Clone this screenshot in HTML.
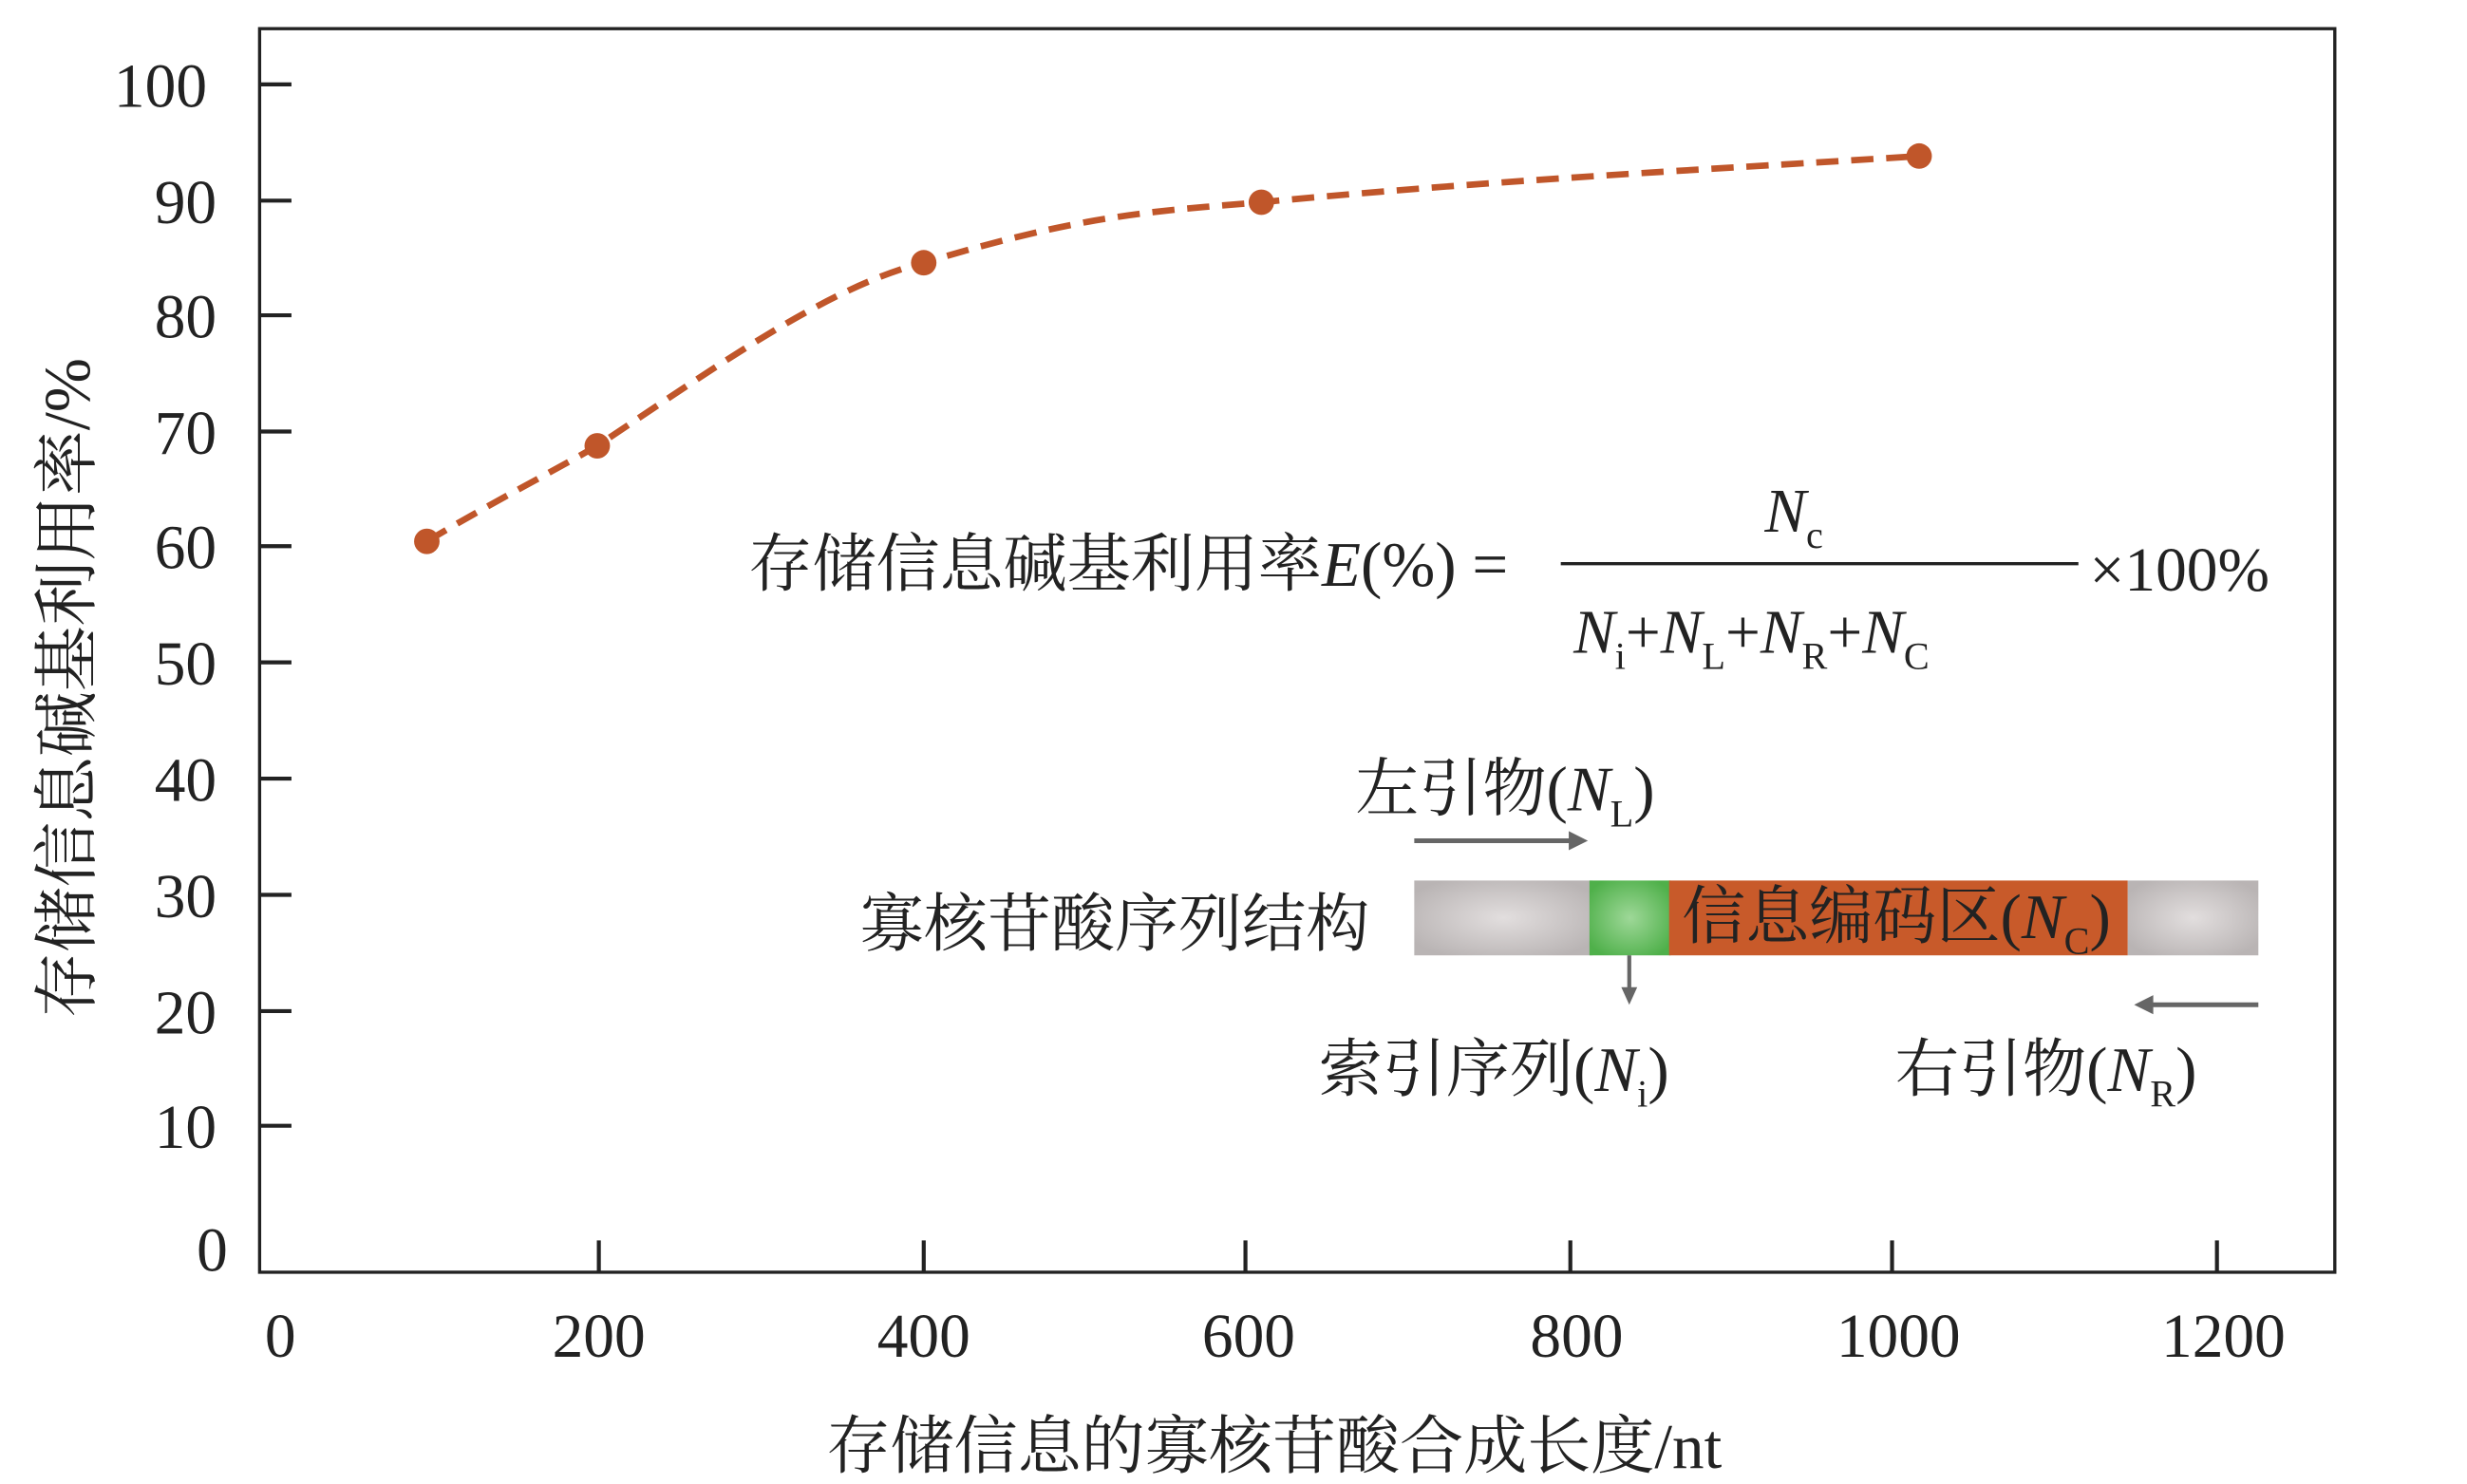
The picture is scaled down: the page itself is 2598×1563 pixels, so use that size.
<!DOCTYPE html>
<html><head><meta charset="utf-8"><style>html,body{margin:0;padding:0;background:#fff}svg{display:block}</style></head><body>
<svg width="2598" height="1563" viewBox="0 0 1549 932" preserveAspectRatio="none" xmlns="http://www.w3.org/2000/svg" font-family="'Liberation Serif','Noto Serif CJK SC',serif" fill="#222">
<defs>
<radialGradient id="gg" cx="0.5" cy="0.5" r="0.6"><stop offset="0" stop-color="#9ed898"/><stop offset="1" stop-color="#4fb04a"/></radialGradient>
<radialGradient id="gr" cx="0.5" cy="0.5" r="0.6"><stop offset="0" stop-color="#e2dede"/><stop offset="1" stop-color="#b9b4b4"/></radialGradient>
</defs>
<rect x="163" y="18" width="1303" height="781" fill="none" stroke="#222" stroke-width="2"/>
<g stroke="#222" stroke-width="2.5">
<line x1="163" y1="53" x2="183" y2="53"/><line x1="163" y1="126" x2="183" y2="126"/><line x1="163" y1="198" x2="183" y2="198"/><line x1="163" y1="271" x2="183" y2="271"/><line x1="163" y1="343" x2="183" y2="343"/><line x1="163" y1="416" x2="183" y2="416"/><line x1="163" y1="489" x2="183" y2="489"/><line x1="163" y1="562" x2="183" y2="562"/><line x1="163" y1="635" x2="183" y2="635"/><line x1="163" y1="707" x2="183" y2="707"/>
<line x1="376" y1="779" x2="376" y2="799"/><line x1="580" y1="779" x2="580" y2="799"/><line x1="782" y1="779" x2="782" y2="799"/><line x1="986" y1="779" x2="986" y2="799"/><line x1="1188" y1="779" x2="1188" y2="799"/><line x1="1392" y1="779" x2="1392" y2="799"/>
</g>
<g font-size="39" text-anchor="end">
<text x="130" y="67">100</text><text x="136" y="140">90</text><text x="136" y="212">80</text><text x="136" y="285">70</text><text x="136" y="357">60</text><text x="136" y="430">50</text><text x="136" y="503">40</text><text x="136" y="576">30</text><text x="136" y="649">20</text><text x="136" y="721">10</text><text x="143" y="798">0</text>
</g>
<g font-size="39" text-anchor="middle">
<text x="176" y="852">0</text><text x="376" y="852">200</text><text x="580" y="852">400</text><text x="784" y="852">600</text><text x="990" y="852">800</text><text x="1192" y="852">1000</text><text x="1396" y="852">1200</text>
</g>
<text x="800" y="922" font-size="40" text-anchor="middle">存储信息的寡核苷酸合成长度/nt</text>
<text transform="translate(56,432) rotate(-90)" font-size="41" text-anchor="middle">存储信息碱基利用率/%</text>
<path d="M268,340 C310,315 340,300 375,280 C450,230 520,180 580,165 C680,135 720,133 792,127 C950,112 1100,105 1205,98" fill="none" stroke="#c0562a" stroke-width="4" stroke-dasharray="14,8"/>
<g fill="#c0562a"><circle cx="268" cy="340" r="8"/><circle cx="375" cy="280" r="8"/><circle cx="580" cy="165" r="8"/><circle cx="792" cy="127" r="8"/><circle cx="1205" cy="98" r="8"/></g>
<text x="470" y="368" font-size="40">存储信息碱基利用率<tspan font-style="italic">E</tspan>(%) =</text>
<line x1="980" y1="354" x2="1305" y2="354" stroke="#222" stroke-width="2"/>
<text x="1108" y="334" font-size="39" font-style="italic">N<tspan font-size="24" font-style="normal" dy="10">c</tspan></text>
<text x="988" y="410" font-size="39"><tspan font-style="italic">N</tspan><tspan font-size="24" dy="10">i</tspan><tspan dy="-10">+</tspan><tspan font-style="italic">N</tspan><tspan font-size="24" dy="10">L</tspan><tspan dy="-10">+</tspan><tspan font-style="italic">N</tspan><tspan font-size="24" dy="10">R</tspan><tspan dy="-10">+</tspan><tspan font-style="italic">N</tspan><tspan font-size="24" dy="10">C</tspan></text>
<text x="1312" y="371" font-size="39">×100%</text>
<text x="851" y="509" font-size="40">左引物(<tspan font-style="italic">N</tspan><tspan font-size="24" dy="10">L</tspan><tspan dy="-10">)</tspan></text>
<line x1="888" y1="528" x2="988" y2="528" stroke="#666" stroke-width="3"/><path d="M997,528 L985,522 L985,534Z" fill="#666"/>
<rect x="888" y="553" width="112" height="47" fill="url(#gr)"/>
<rect x="998" y="553" width="51" height="47" fill="url(#gg)"/>
<rect x="1048" y="553" width="288" height="47" fill="#c85a2a"/>
<rect x="1336" y="553" width="82" height="47" fill="url(#gr)"/>
<text x="1056" y="589" font-size="40">信息编码区(<tspan font-style="italic">N</tspan><tspan font-size="24" dy="10">C</tspan><tspan dy="-10">)</tspan></text>
<text x="540" y="594" font-size="40">寡核苷酸序列结构</text>
<line x1="1023" y1="600" x2="1023" y2="624" stroke="#666" stroke-width="2.5"/><path d="M1023,631 L1018,620 L1028,620Z" fill="#666"/>
<line x1="1350" y1="631" x2="1418" y2="631" stroke="#666" stroke-width="3"/><path d="M1340,631 L1352,625 L1352,637Z" fill="#666"/>
<text x="828" y="685" font-size="40">索引序列(<tspan font-style="italic">N</tspan><tspan font-size="24" dy="10">i</tspan><tspan dy="-10">)</tspan></text>
<text x="1190" y="685" font-size="40">右引物(<tspan font-style="italic">N</tspan><tspan font-size="24" dy="10">R</tspan><tspan dy="-10">)</tspan></text>
</svg>
</body></html>
